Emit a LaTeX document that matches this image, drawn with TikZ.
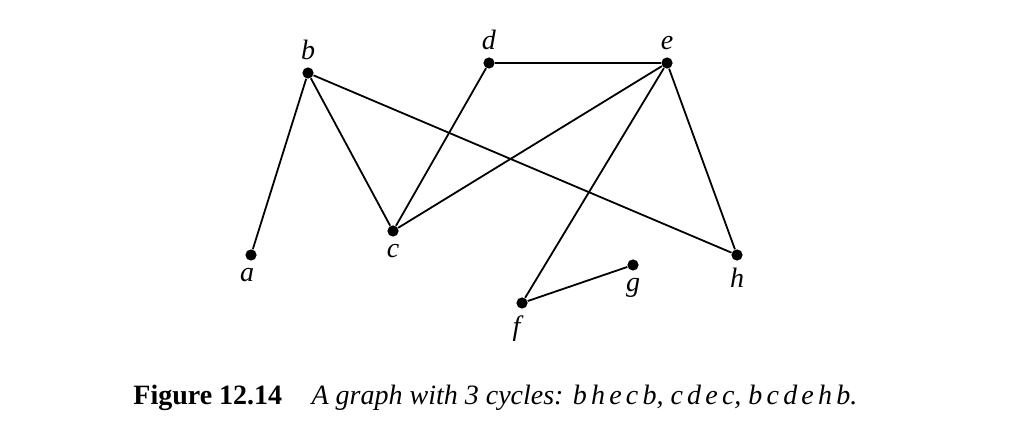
\documentclass[tikz,border=0pt]{standalone}
\usepackage{fontspec}
\setmainfont{Liberation Serif}
\usepackage{tikz}
\tikzset{vertex/.style={circle,fill=black,inner sep=0pt,minimum size=5.6pt},
  edge/.style={line width=0.9pt}}
\newcommand{\vlab}[1]{\textit{#1}}

\begin{document}
\begin{tikzpicture}[x=0.5pt,y=-0.5pt,font=\fontsize{14}{16}\selectfont]
    \useasboundingbox (0,0) rectangle (1016,448);

    % vertices
    \node[vertex,label={[xshift=-2pt]below:\vlab{a}}] (a) at (251,255) {};
    \node[vertex,label=above:\vlab{b}] (b) at (308,73) {};
    \node[vertex,label=below:\vlab{c}] (c) at (393,231) {};
    \node[vertex,label=above:\vlab{d}] (d) at (489,63) {};
    \node[vertex,label=above:\vlab{e}] (e) at (667,63) {};
    \node[vertex,label={[xshift=-2pt]below:\vlab{f}}] (f) at (522,303) {};
    \node[vertex,label=below:\vlab{g}] (g) at (633,265) {};
    \node[vertex,label=below:\vlab{h}] (h) at (737,255) {};

    % edges
    \foreach \u/\v in {a/b,b/c,b/h,c/d,c/e,d/e,e/f,e/h,f/g}
      \draw[edge] (\u) -- (\v);

    % caption
    \node[anchor=base west,inner sep=0pt] (cap) at (133,404)
      {\textbf{Figure 12.14}\hspace{1.05em}\textit{A graph with 3 cycles:
       {\addfontfeature{LetterSpace=15}bhecb}, {\addfontfeature{LetterSpace=15}cdec},
       {\addfontfeature{LetterSpace=15}bcdehb}.}};
\end{tikzpicture}
\end{document}
